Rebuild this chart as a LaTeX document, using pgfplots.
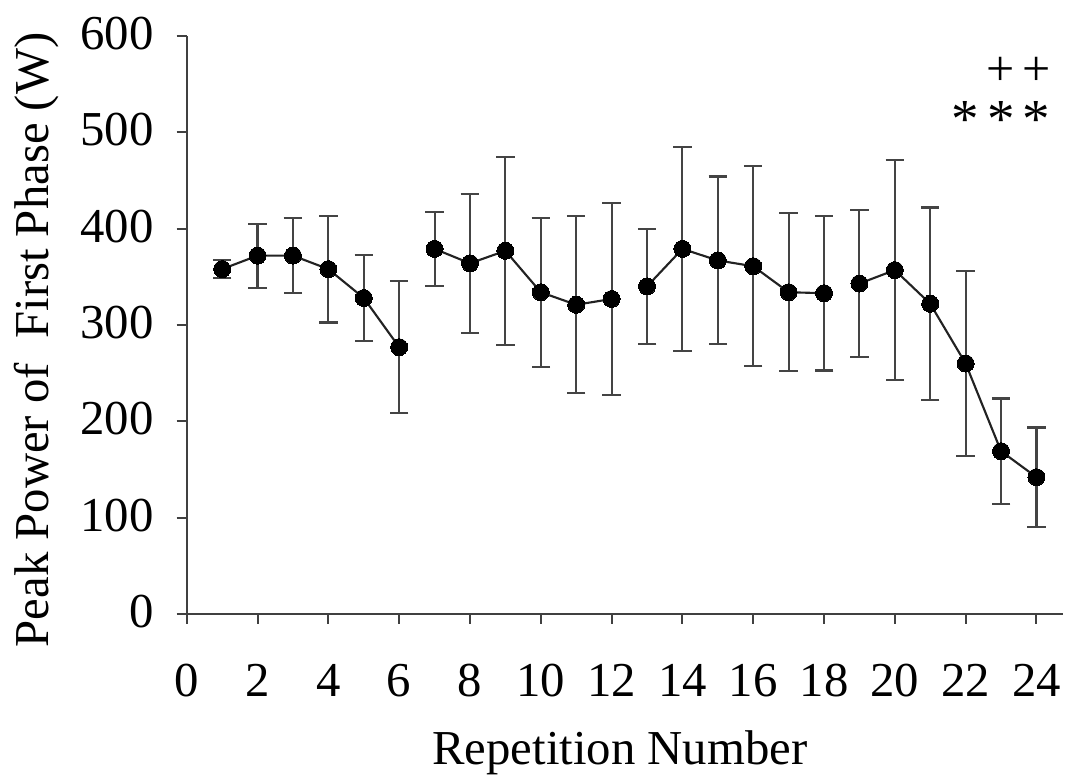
\documentclass[border=0pt]{standalone}
\usepackage{fontspec}
\setmainfont{Liberation Serif}
\usepackage{pgfplots}
\pgfplotsset{compat=1.18}
\definecolor{barc}{HTML}{444444}
\definecolor{linec}{HTML}{222222}
\pgfplotsset{seg/.style={color=linec, line width=0.85pt, mark=*, mark size=3.4pt,
  mark options={fill=black, draw=black, line width=0pt},
  error bars/.cd, y dir=both, y explicit,
  error bar style={color=barc, line width=0.85pt},
  error mark options={rotate=90, mark size=3.7pt, line width=0.85pt, color=barc}}}
\begin{document}
\fontsize{19.5}{23}\selectfont
\begin{tikzpicture}
\useasboundingbox (-74.7pt,-66.4pt) rectangle ++(426.4pt,312pt);
\begin{axis}[name=ax, at={(0,0)}, anchor=south west, scale only axis, width=350.5pt, height=231.2pt,
  xmin=0, xmax=24.75, ymin=0, ymax=600,
  axis x line*=bottom, axis y line*=left, axis line style={-, color=black!75, line width=0.8pt},
  xtick={0,2,...,24}, ytick={0,100,...,600},
  tick align=outside, major tick length=4pt, tick style={color=black!75, line width=0.8pt},
  /pgf/number format/assume math mode=true,
  tick label style={font=\fontsize{19.5}{23}\selectfont},
  xticklabel style={yshift=-9.5pt},
  yticklabel style={xshift=-2.5pt, yshift=1pt},
  xlabel={Repetition Number}, ylabel={Peak Power of\ \ First Phase (W)},
  label style={font=\fontsize{19.5}{23}\selectfont},
  xlabel style={at={(rel axis cs:0.5,0)}, anchor=base, yshift=-60.4pt, xshift=-2pt},
  ylabel style={at={(rel axis cs:0,0.5)}, anchor=center, yshift=60pt, xshift=-6pt},
  clip=false]
\addplot[seg] coordinates {(1,358) +- (0,9.3) (2,372) +- (0,33.2) (3,372) +- (0,39.2) (4,358) +- (0,55.4) (5,328) +- (0,44.4) (6,277) +- (0,68.7)};
\addplot[seg] coordinates {(7,379) +- (0,38.7) (8,364) +- (0,72.2) (9,377) +- (0,97.8) (10,334) +- (0,77.3) (11,321) +- (0,91.8) (12,327) +- (0,99.9)};
\addplot[seg] coordinates {(13,340) +- (0,59.6) (14,379) +- (0,106) (15,367) +- (0,87.1) (16,361) +- (0,103.7) (17,334) +- (0,82) (18,333) +- (0,80.2)};
\addplot[seg] coordinates {(19,343) +- (0,76.4) (20,357) +- (0,114.2) (21,322) +- (0,99.9) (22,260) +- (0,96.1) (23,169) +- (0,54.7) (24,142) +- (0,51.6)};
\node[inner sep=0pt] at (axis cs:23,563) {\fontsize{20}{20}\selectfont +};
\node[inner sep=0pt] at (axis cs:24,563) {\fontsize{20}{20}\selectfont +};
\node[inner sep=0pt, yshift=-3.5pt] at (axis cs:22,522) {\fontsize{22}{22}\selectfont *};
\node[inner sep=0pt, yshift=-3.5pt] at (axis cs:23,522) {\fontsize{22}{22}\selectfont *};
\node[inner sep=0pt, yshift=-3.5pt] at (axis cs:24,522) {\fontsize{22}{22}\selectfont *};
\end{axis}
\end{tikzpicture}
\end{document}
